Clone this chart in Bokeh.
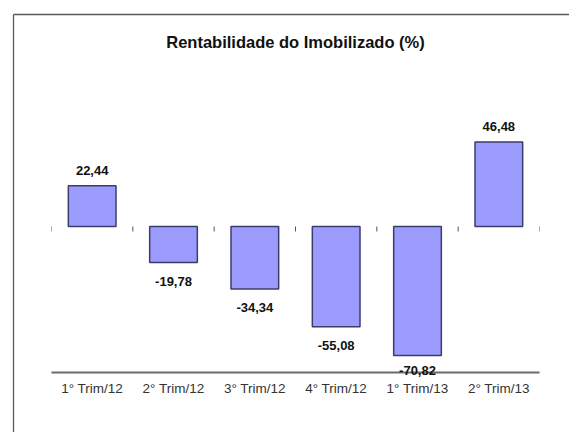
import numpy as np
from bokeh.plotting import figure
from bokeh.models import Range1d, FactorRange, ColumnDataSource
from bokeh.embed import file_html
from bokeh.resources import INLINE
from bokeh.core.properties import value

# ---- data ----
categories = ["1° Trim/12", "2° Trim/12", "3° Trim/12", "4° Trim/12", "1° Trim/13", "2° Trim/13"]
values = [22.44, -19.78, -34.34, -55.08, -70.82, 46.48]
title_text = "Rentabilidade do Imobilizado (%)"

labels = [f"{v:.2f}".replace(".", ",") for v in values]

# ---- layout (pixels) ----
W, H = 569, 432
ML, MT = 51, 62
MR, MB = W - 539, H - 372
FRAME_W = W - ML - MR
FRAME_H = H - MT - MB
Y_LOW, Y_HIGH = -80.2, 90.1
PX = FRAME_H / (Y_HIGH - Y_LOW)          # pixels per y unit
CAT_PX = FRAME_W / len(categories)       # pixels per category

FONT = "Liberation Sans"

vals = np.array(values)
pos_y = vals + 15 / PX
neg_y = np.maximum(vals - 14 / PX, Y_LOW + 7 / PX)
lab_y = np.where(vals >= 0, pos_y, neg_y)

src = ColumnDataSource(dict(cat=categories, val=values, lab=labels,
                            lab_y=lab_y.tolist(),
                            base=["alphabetic" if v >= 0 else "top" for v in values]))

p = figure(x_range=FactorRange(factors=categories, range_padding=0),
           y_range=Range1d(Y_LOW, Y_HIGH),
           width=W, height=H,
           min_border_left=ML, min_border_right=MR,
           min_border_top=MT, min_border_bottom=MB,
           output_backend="svg", toolbar_location=None)
p.styles = {"overflow": "hidden"}

p.vbar(x="cat", top="val", bottom=0, width=0.586, source=src,
       fill_color="#9c9cff", line_color="#3c3c6c", line_width=1.5)

# zero-line tick marks at category boundaries
bounds = np.arange(len(categories) + 1).astype(float)
p.segment(x0=bounds, x1=bounds, y0=np.zeros_like(bounds), y1=np.full_like(bounds, -5 / PX),
          line_color="#555555", line_width=1)

lbl = p.text(x="cat", y="lab_y", text="lab", source=src,
             text_align="center", text_baseline="base",
             text_font=value(FONT), text_font_style="bold",
             text_font_size="13px", text_color="#111111")
lbl.level = "annotation"

# outer chart-area border (left and top edges)
bx = -(ML - 13) / CAT_PX
by = Y_HIGH + (MT - 14) / PX
x_end = len(categories) + (MR + 2) / CAT_PX
y_end = Y_LOW - (MB + 2) / PX
brd = p.segment(x0=[bx, bx], y0=[by, by], x1=[x_end, bx], y1=[by, y_end],
                line_color="#5a5a5a", line_width=1.3)
brd.level = "overlay"

p.title.text = title_text
p.title.text_font = FONT
p.title.text_font_style = "bold"
p.title.text_font_size = "16.5px"
p.title.text_color = "#111111"
p.title.align = "center"
p.title.standoff = 23

p.yaxis.visible = False
p.xgrid.grid_line_color = None
p.ygrid.grid_line_color = None
p.outline_line_color = None

ax = p.xaxis[0]
ax.axis_line_color = "#6a6a6a"
ax.axis_line_width = 2
ax.major_tick_line_color = None
ax.minor_tick_line_color = None
ax.major_tick_out = 0
ax.major_label_standoff = 8
ax.major_label_text_font = FONT
ax.major_label_text_font_size = "13.5px"
ax.major_label_text_color = "#333333"

open("out.html", "w").write(file_html(p, INLINE))
